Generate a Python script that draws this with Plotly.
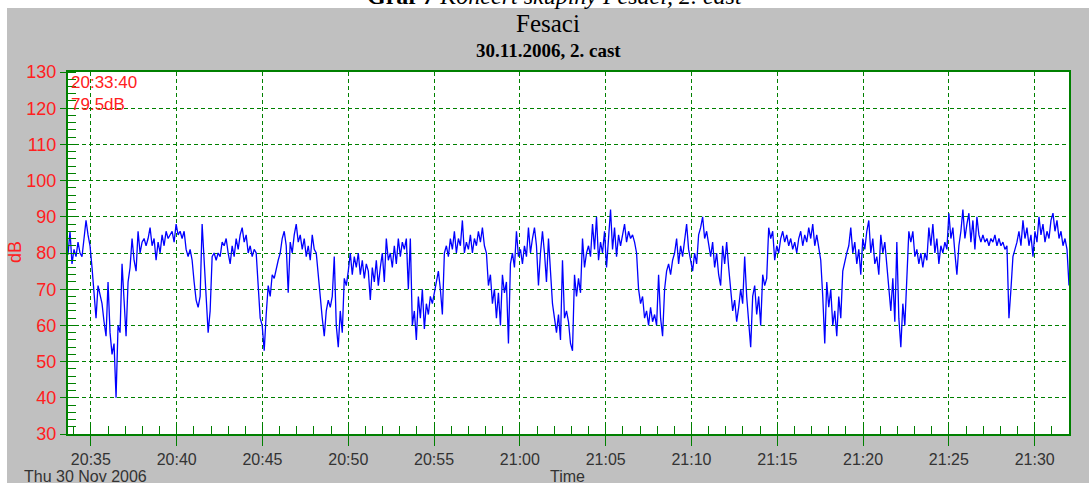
import pandas as pd
import plotly.graph_objects as go

# ---------------- data (dB, one reading every 7 s from 20:33:40) ----------------
start_time = "2006-11-30 20:33:40"
end_time = "2006-11-30 21:32:00"
step = "7s"

seg1 = [79.5, 86, 77, 81, 79, 83, 80, 79, 84, 89,
        85, 82, 76, 70, 62, 71, 68, 66, 61, 57,
        72, 58, 52, 55, 40, 60, 58, 77, 67, 57,
        72, 76, 84, 78, 75, 86, 80, 83, 84, 82,
        84, 87, 82, 84, 78, 83, 80, 85, 82, 86,
        84, 85, 86, 83, 88, 85, 86, 84, 86, 81]
seg2 = [79, 81, 78, 72, 67, 65, 68, 88, 76, 68,
        58, 64, 79, 80, 78, 80, 79, 83, 82, 84,
        80, 77, 82, 79, 84, 81, 85, 87, 83, 85,
        80, 82, 79, 81, 80, 70, 62, 60, 53, 63,
        71, 68, 74, 73, 76, 78, 80, 84, 86, 82,
        69, 83, 80, 85, 88, 83, 85, 81, 84, 79]
seg3 = [82, 78, 85, 81, 80, 74, 66, 62, 57, 64,
        67, 65, 68, 79, 60, 54, 64, 58, 73, 71,
        75, 80, 74, 79, 76, 80, 74, 78, 73, 77,
        75, 67, 76, 72, 78, 71, 76, 80, 72, 84,
        78, 80, 76, 82, 77, 84, 79, 83, 81, 84,
        70, 84, 60, 64, 56, 68, 62, 70, 59, 66]
seg4 = [63, 68, 66, 69, 71, 75, 70, 63, 80, 82,
        79, 84, 81, 86, 80, 84, 82, 89, 80, 83,
        81, 85, 80, 84, 82, 86, 83, 87, 82, 80,
        71, 74, 66, 70, 62, 69, 60, 74, 69, 72,
        55, 77, 80, 76, 86, 79, 81, 77, 82, 79,
        87, 80, 84, 87, 82, 71, 80, 86, 80, 72]
seg5 = [84, 75, 66, 62, 58, 63, 56, 78, 62, 64,
        61, 55, 53, 74, 68, 73, 69, 84, 76, 80,
        82, 79, 88, 81, 90, 78, 83, 80, 86, 76,
        84, 92, 81, 87, 79, 85, 82, 85, 88, 83,
        86, 84, 85, 83, 80, 70, 66, 68, 62, 64,
        60, 65, 61, 63, 60, 74, 62, 57, 70, 75]
seg6 = [77, 74, 78, 80, 84, 77, 82, 79, 84, 88,
        81, 78, 75, 80, 77, 85, 87, 90, 84, 86,
        82, 79, 83, 76, 80, 74, 71, 82, 77, 83,
        76, 69, 64, 67, 61, 65, 70, 66, 79, 68,
        62, 54, 68, 71, 63, 68, 60, 74, 71, 73,
        87, 84, 86, 78, 82, 80, 84, 86, 83, 85]
seg7 = [82, 84, 81, 83, 80, 84, 86, 82, 85, 83,
        87, 84, 88, 82, 85, 81, 78, 68, 55, 72,
        65, 70, 60, 64, 57, 68, 62, 75, 78, 80,
        82, 87, 80, 83, 77, 81, 74, 84, 81, 86,
        89, 80, 84, 77, 79, 74, 85, 80, 83, 76,
        69, 64, 73, 61, 83, 62, 54, 66, 60, 71]
seg8 = [86, 83, 86, 79, 81, 77, 80, 76, 80, 78,
        87, 82, 88, 80, 84, 77, 82, 80, 83, 81,
        91, 84, 87, 80, 74, 82, 86, 92, 84, 88,
        91, 83, 89, 81, 90, 85, 83, 85, 83, 84,
        82, 84, 83, 85, 82]
seg9 = [84, 82, 83, 81, 82, 62, 70, 79, 81, 83,
        86, 82, 89, 84, 87, 82, 85, 79, 86, 83,
        90, 85, 88, 83, 86, 84, 89, 91, 86, 89,
        84, 86, 82, 84, 81, 71]

y_ticks = [30, 40, 50, 60, 70, 80, 90, 100, 110, 120, 130]

levels = seg1 + seg2 + seg3 + seg4 + seg5 + seg6 + seg7 + seg8 + seg9
times = pd.date_range(start=start_time, periods=len(levels), freq=step)

# ---------------- layout geometry (pixels) ----------------
W, H = 1089, 483
PL, PR, PT, PB = 68, 1069, 72, 434


def px_x(x):
    return (x - PL) / (PR - PL)


def px_y(y):
    return (PB - y) / (PB - PT)


GRID = "#008000"
RED = "#ff2020"

fig = go.Figure()
fig.add_trace(go.Scatter(x=times, y=levels, mode="lines",
                         line=dict(color="#0000ff", width=1.3),
                         hoverinfo="skip", showlegend=False))

fig.update_layout(
    width=W, height=H,
    margin=dict(l=PL, r=W - PR, t=PT, b=H - PB, pad=0),
    paper_bgcolor="#c0c0c0",
    plot_bgcolor="#ffffff",
    showlegend=False,
    xaxis=dict(
        range=[start_time, end_time],
        tickformat="%H:%M",
        dtick=300000,
        tick0="2006-11-30 20:35:00",
        ticks="outside", ticklen=10, tickwidth=1, tickcolor=GRID,
        tickfont=dict(family="Liberation Sans", size=16, color="#333333"),
        showgrid=True, gridcolor=GRID, griddash="4px,3px", gridwidth=1,
        showline=True, linecolor=GRID, linewidth=2, mirror=True,
        minor=dict(ticks="inside", ticklen=8, dtick=60000, tickcolor=GRID,
                   showgrid=False),
        zeroline=False,
    ),
    yaxis=dict(
        range=[30, 130],
        tickvals=y_ticks,
        ticks="outside", ticklen=6, tickwidth=1, tickcolor=GRID,
        tickfont=dict(family="Liberation Sans", size=18, color=RED),
        showgrid=True, gridcolor=GRID, griddash="4px,3px", gridwidth=1,
        showline=True, linecolor=GRID, linewidth=2, mirror=True,
        minor=dict(ticks="inside", ticklen=8, dtick=2, tickcolor=GRID,
                   showgrid=False),
        zeroline=False,
    ),
)

# white page strips around the gray chart image
fig.add_shape(type="rect", xref="paper", yref="paper", layer="below",
              x0=px_x(0), x1=px_x(7), y0=px_y(H), y1=px_y(0),
              fillcolor="#ffffff", line=dict(width=0))
fig.add_shape(type="rect", xref="paper", yref="paper", layer="below",
              x0=px_x(0), x1=px_x(W), y0=px_y(8), y1=px_y(0),
              fillcolor="#ffffff", line=dict(width=0))

ann = []
ann.append(dict(text="<b>Graf 7</b> <i>Koncert skupiny Fesaci, 2. cast</i>",
                x=px_x(555), y=px_y(11), xanchor="center", yanchor="bottom",
                font=dict(family="Liberation Serif", size=24, color="#000000")))
ann.append(dict(text="Fesaci", x=px_x(548), y=px_y(24), xanchor="center", yanchor="middle",
                font=dict(family="Liberation Serif", size=25, color="#000000")))
ann.append(dict(text="<b>30.11.2006, 2. cast</b>", x=px_x(548), y=px_y(51), xanchor="center",
                yanchor="middle",
                font=dict(family="Liberation Serif", size=19, color="#000000")))
ann.append(dict(text="20:33:40", x=px_x(69), y=px_y(82), xanchor="left", yanchor="middle",
                font=dict(family="Liberation Sans", size=17, color=RED)))
ann.append(dict(text="79.5dB", x=px_x(69), y=px_y(104), xanchor="left", yanchor="middle",
                font=dict(family="Liberation Sans", size=17, color=RED)))
ann.append(dict(text="dB", x=px_x(15), y=px_y(252), xanchor="center", yanchor="middle",
                textangle=-90,
                font=dict(family="Liberation Sans", size=18, color=RED)))
ann.append(dict(text="Time", x=px_x(567), y=px_y(476), xanchor="center", yanchor="middle",
                font=dict(family="Liberation Sans", size=16, color="#333333")))
ann.append(dict(text="Thu 30 Nov 2006", x=px_x(22), y=px_y(476), xanchor="left",
                yanchor="middle",
                font=dict(family="Liberation Sans", size=16, color="#333333")))
for a in ann:
    a.update(xref="paper", yref="paper", showarrow=False)
    fig.add_annotation(**a)

fig.write_html("out.html")
